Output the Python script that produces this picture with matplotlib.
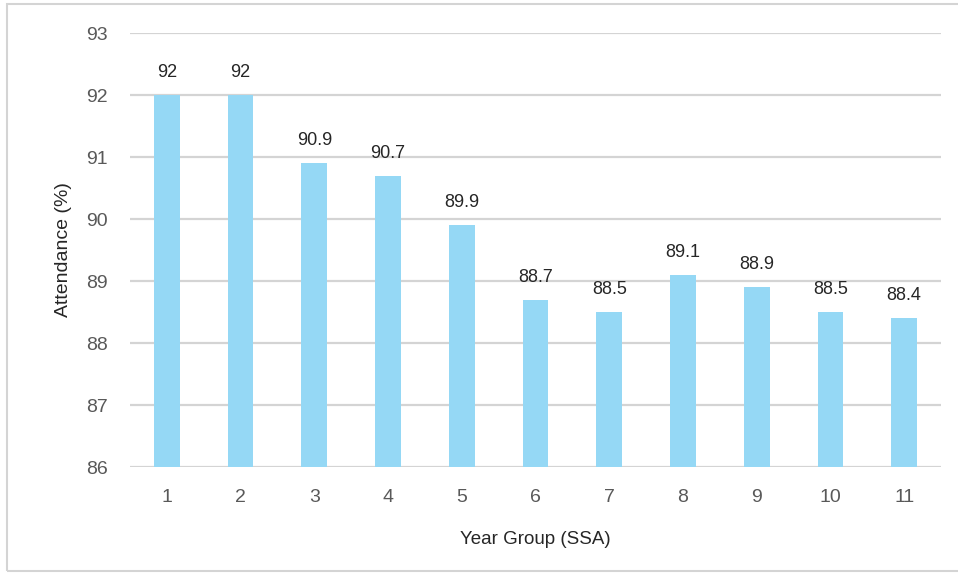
import matplotlib
matplotlib.use("Agg")
import matplotlib.pyplot as plt
from matplotlib.patches import Rectangle

year_groups = ["1", "2", "3", "4", "5", "6", "7", "8", "9", "10", "11"]
attendance = [92, 92, 90.9, 90.7, 89.9, 88.7, 88.5, 89.1, 88.9, 88.5, 88.4]
value_labels = ["92", "92", "90.9", "90.7", "89.9", "88.7", "88.5", "89.1", "88.9", "88.5", "88.4"]
y_ticks = [86, 87, 88, 89, 90, 91, 92, 93]

plt.rcParams["font.family"] = ["Liberation Sans", "DejaVu Sans"]

fig = plt.figure(figsize=(9.58, 5.81), dpi=100)
fig.patch.set_facecolor("white")

# light frame around the chart
fig.patches.append(Rectangle((7 / 958, 1 - 571 / 581), 1.0, (571 - 4) / 581,
                             transform=fig.transFigure, fill=False,
                             edgecolor="#d4d4d4", linewidth=1.5))

ax = fig.add_axes([130 / 958, 1 - 467 / 581, (941 - 130) / 958, (467 - 33) / 581])

x = list(range(1, len(year_groups) + 1))
ax.bar(x, [v - 86 for v in attendance], bottom=86, width=0.35,
       color="#95d8f5", zorder=3)

for xi, v, lab in zip(x, attendance, value_labels):
    ax.annotate(lab, (xi, v), xytext=(0, 10), textcoords="offset points",
                ha="center", va="bottom", fontsize=13, color="#262626")

ax.set_xlim(0.5, 11.5)
ax.set_ylim(86, 93)
ax.set_yticks(y_ticks)
ax.set_xticks(x)
ax.set_xticklabels(year_groups)
ax.yaxis.grid(True, color="#d4d4d4", linewidth=1.6, zorder=0)
ax.set_axisbelow(True)
for s in ax.spines.values():
    s.set_visible(False)
ax.tick_params(axis="both", length=0, labelsize=14, labelcolor="#595959")
ax.tick_params(axis="x", pad=16)
ax.tick_params(axis="y", pad=16)

ax.set_xlabel("Year Group (SSA)", fontsize=13.5, color="#262626", labelpad=18)
ax.set_ylabel("Attendance (%)", fontsize=14, color="#262626", labelpad=10)

fig.savefig("out.png", dpi=100, facecolor="white")
